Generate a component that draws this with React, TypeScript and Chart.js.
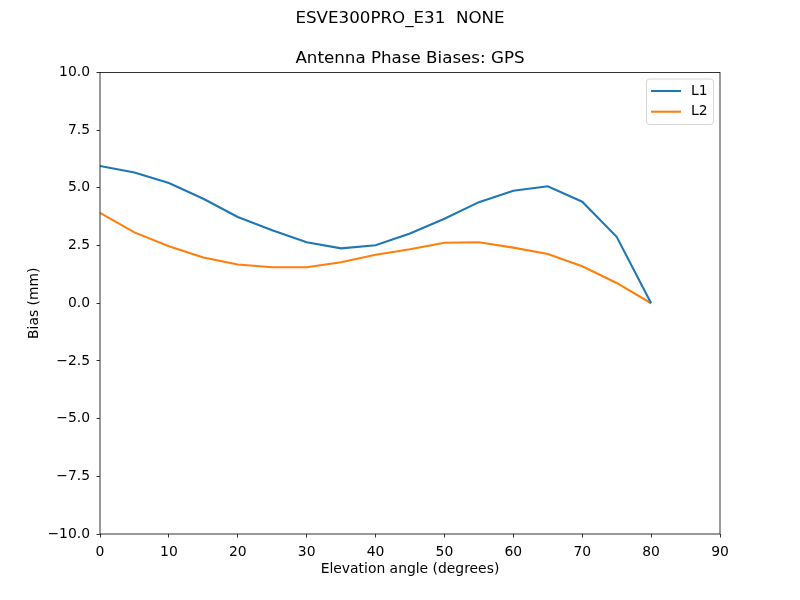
import React, { useEffect, useRef } from "react";
import { Chart, registerables } from "chart.js";

Chart.register(...registerables);

const suptitle = "ESVE300PRO_E31  NONE";
const axesTitle = "Antenna Phase Biases: GPS";
const xLabel = "Elevation angle (degrees)";
const yLabel = "Bias (mm)";

const elevations = [0, 5, 10, 15, 20, 25, 30, 35, 40, 45, 50, 55, 60, 65, 70, 75, 80];
const l1Values = [5.95, 5.67, 5.21, 4.53, 3.74, 3.16, 2.64, 2.38, 2.51, 3.02, 3.66, 4.38, 4.88, 5.07, 4.40, 2.88, 0.0];
const l2Values = [3.92, 3.07, 2.47, 1.98, 1.68, 1.56, 1.56, 1.78, 2.10, 2.34, 2.62, 2.64, 2.41, 2.13, 1.60, 0.88, 0.0];
const seriesLabels = ["L1", "L2"];
const seriesColors = ["#1f77b4", "#ff7f0e"];

const FONT = "'DejaVu Sans', sans-serif";

const decorPlugin = {
  id: "decor",
  afterDraw(chart: any) {
    const ctx = chart.ctx;
    const ca = chart.chartArea;
    ctx.save();
    // frame
    ctx.strokeStyle = "#000";
    ctx.lineWidth = 0.8;
    ctx.strokeRect(ca.left, ca.top, ca.right - ca.left, ca.bottom - ca.top);
    // titles
    ctx.fillStyle = "#000";
    ctx.textAlign = "center";
    ctx.textBaseline = "middle";
    ctx.font = `16.7px ${FONT}`;
    ctx.fillText(suptitle, chart.width / 2, 19);
    ctx.fillText(axesTitle, (ca.left + ca.right) / 2, 59);
    // legend
    const bx = 646.5, by = 79, bw = 67, bh = 45.5, r = 3;
    ctx.globalAlpha = 0.8;
    ctx.beginPath();
    ctx.moveTo(bx + r, by);
    ctx.lineTo(bx + bw - r, by);
    ctx.quadraticCurveTo(bx + bw, by, bx + bw, by + r);
    ctx.lineTo(bx + bw, by + bh - r);
    ctx.quadraticCurveTo(bx + bw, by + bh, bx + bw - r, by + bh);
    ctx.lineTo(bx + r, by + bh);
    ctx.quadraticCurveTo(bx, by + bh, bx, by + bh - r);
    ctx.lineTo(bx, by + r);
    ctx.quadraticCurveTo(bx, by, bx + r, by);
    ctx.closePath();
    ctx.fillStyle = "#fff";
    ctx.fill();
    ctx.strokeStyle = "#cccccc";
    ctx.lineWidth = 1;
    ctx.stroke();
    ctx.globalAlpha = 1;
    chart.data.datasets.forEach((ds: any, i: number) => {
      const y = 91 + i * 20.7;
      ctx.strokeStyle = ds.borderColor;
      ctx.lineWidth = 2.08;
      ctx.beginPath();
      ctx.moveTo(651, y);
      ctx.lineTo(681, y);
      ctx.stroke();
      ctx.fillStyle = "#000";
      ctx.textAlign = "left";
      ctx.font = `13.9px ${FONT}`;
      ctx.fillText(ds.label, 691, y);
    });
    ctx.restore();
  },
};

const fmt = (v: number) => v.toFixed(1).replace("-", "\u2212");

export default function App() {
  const ref = useRef<HTMLCanvasElement | null>(null);
  useEffect(() => {
    document.body.style.margin = "0";
    const canvas = ref.current!;
    const tickFont = { family: FONT, size: 13.9 };
    const chart = new Chart(canvas, {
      type: "line",
      data: {
        datasets: [
          {
            label: seriesLabels[0],
            data: elevations.map((x, i) => ({ x, y: l1Values[i] })),
            borderColor: seriesColors[0],
            backgroundColor: seriesColors[0],
            borderWidth: 2.08,
            pointRadius: 0,
            tension: 0,
          },
          {
            label: seriesLabels[1],
            data: elevations.map((x, i) => ({ x, y: l2Values[i] })),
            borderColor: seriesColors[1],
            backgroundColor: seriesColors[1],
            borderWidth: 2.08,
            pointRadius: 0,
            tension: 0,
          },
        ],
      },
      options: {
        responsive: false,
        animation: false,
        devicePixelRatio: 1,
        layout: { padding: { top: 72.5, right: 80, left: 0, bottom: 0 } },
        plugins: {
          legend: { display: false },
          title: { display: false },
          tooltip: { enabled: false },
        },
        scales: {
          x: {
            type: "linear",
            min: 0,
            max: 90,
            afterFit: (s: any) => {
              s.height = 66;
            },
            ticks: {
              stepSize: 10,
              font: tickFont,
              color: "#000",
              padding: 7,
              maxRotation: 0,
              callback: (v: any) => String(v),
            },
            grid: {
              drawOnChartArea: false,
              drawTicks: true,
              tickLength: 3.5,
              tickColor: "#000",
              tickWidth: 0.8,
              color: "rgba(0,0,0,0)",
            },
            border: { display: false },
            title: {
              display: true,
              text: xLabel,
              font: tickFont,
              color: "#000",
              padding: { top: 0, bottom: 22.4 },
            },
          },
          y: {
            type: "linear",
            min: -10,
            max: 10,
            afterFit: (s: any) => {
              s.width = 100;
            },
            ticks: {
              stepSize: 2.5,
              font: tickFont,
              color: "#000",
              padding: 6.5,
              callback: (v: any) => fmt(Number(v)),
            },
            grid: {
              drawOnChartArea: false,
              drawTicks: true,
              tickLength: 3.5,
              tickColor: "#000",
              tickWidth: 0.8,
              color: "rgba(0,0,0,0)",
            },
            border: { display: false },
            title: {
              display: true,
              text: yLabel,
              font: tickFont,
              color: "#000",
              padding: { top: 26.5, bottom: 0 },
            },
          },
        },
      },
      plugins: [decorPlugin],
    } as any);
    return () => chart.destroy();
  }, []);
  return (
    <div style={{ width: 800, height: 600 }}>
      <canvas ref={ref} width={800} height={600} style={{ display: "block" }} />
    </div>
  );
}
